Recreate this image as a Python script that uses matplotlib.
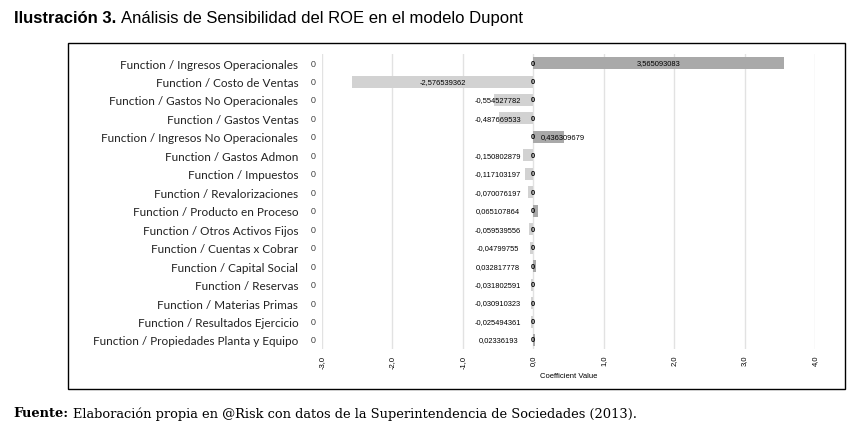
import matplotlib.pyplot as plt
import numpy as np

categories = ['Function / Ingresos Operacionales', 'Function / Costo de Ventas',
              'Function / Gastos No Operacionales', 'Function / Gastos Ventas',
              'Function / Ingresos No Operacionales', 'Function / Gastos Admon',
              'Function / Impuestos', 'Function / Revalorizaciones',
              'Function / Producto en Proceso', 'Function / Otros Activos Fijos',
              'Function / Cuentas x Cobrar', 'Function / Capital Social',
              'Function / Reservas', 'Function / Materias Primas',
              'Function / Resultados Ejercicio', 'Function / Propiedades Planta y Equipo']
coefs = [3.565093083, -2.576539362, -0.554527782, -0.487669533, 0.436309679,
         -0.150802879, -0.117103197, -0.070076197, 0.065107864, -0.059539556,
         -0.04799755, 0.032817778, -0.031802591, -0.030910323, -0.025494361, 0.02336193]
coef_labels = ['3,565093083', '-2,576539362', '-0,554527782', '-0,487669533', '0,436309679',
               '-0,150802879', '-0,117103197', '-0,070076197', '0,065107864', '-0,059539556',
               '-0,04799755', '0,032817778', '-0,031802591', '-0,030910323', '-0,025494361',
               '0,02336193']
xticks = [-3, -2, -1, 0, 1, 2, 3, 4]
xtick_labels = ['-3,0', '-2,0', '-1,0', '0,0', '1,0', '2,0', '3,0', '4,0']

fig = plt.figure(figsize=(8.6, 4.31), dpi=100)
ax = fig.add_axes([0.3744, 0.1879, 0.5733, 0.6845])

y = np.arange(len(categories))
colors = ['#a9a9a9' if v > 0 else '#d2d2d2' for v in coefs]
ax.barh(y, coefs, height=0.65, color=colors, zorder=2)

for i, (v, lab) in enumerate(zip(coefs, coef_labels)):
    if v > 0.3:
        xc = max(v / 2, 0.42)
    else:
        xc = min(v / 2, -0.5)
    ax.text(xc, i, lab, ha='center', va='center', fontsize=5.4, family='Liberation Sans', zorder=3)
    ax.text(0, i, '0', ha='center', va='center', fontsize=5.5, fontweight='bold',
            family='Liberation Sans', zorder=3)
    ax.text(-3.12, i, '0', ha='center', va='center', fontsize=6, family='Lato', color='#333333')

ax.set_xlim(-3, 4)
ax.set_ylim(len(categories) - 0.51, -0.49)
ax.set_xticks(xticks)
ax.set_xticklabels(xtick_labels, rotation=90, fontsize=5.5, family='Liberation Sans')
ax.set_yticks(y)
ax.set_yticklabels(categories, fontsize=8.5, family='Lato', color='#222222')
ax.tick_params(axis='y', length=0, pad=17)
ax.tick_params(axis='x', length=0, pad=4)
ax.grid(axis='x', color='#e2e2e2', linewidth=1, zorder=0)
for s in ax.spines.values():
    s.set_visible(False)
ax.set_xlabel('Coefficient Value', fontsize=5.5, family='Liberation Sans', labelpad=3)

# outer frame
frame = plt.Rectangle((0.0791, 0.0951), 0.9035, 0.8028, transform=fig.transFigure,
                      fill=False, edgecolor='black', linewidth=1)
fig.patches.append(frame)

# title and source text
fig.canvas.draw()
r = fig.canvas.get_renderer()
t1 = fig.text(0.016, 0.956, 'Ilustración 3.', fontsize=12, fontweight='bold',
              family='Liberation Sans', va='center')
bb = t1.get_window_extent(r)
fig.text(bb.x1 / 860 + 0.006, 0.956, 'Análisis de Sensibilidad del ROE en el modelo Dupont',
         fontsize=12, family='Liberation Sans', va='center')
t2 = fig.text(0.016, 0.04, 'Fuente:', fontsize=9.4, fontweight='bold',
              family='DejaVu Serif', va='center')
bb = t2.get_window_extent(r)
t3 = fig.text(bb.x1 / 860 + 0.005, 0.04,
              'Elaboración propia en @Risk con datos de la Superintendencia de Sociedades (2013).',
              fontsize=9.4, family='DejaVu Serif', va='center')

fig.savefig('out.png', dpi=100)
